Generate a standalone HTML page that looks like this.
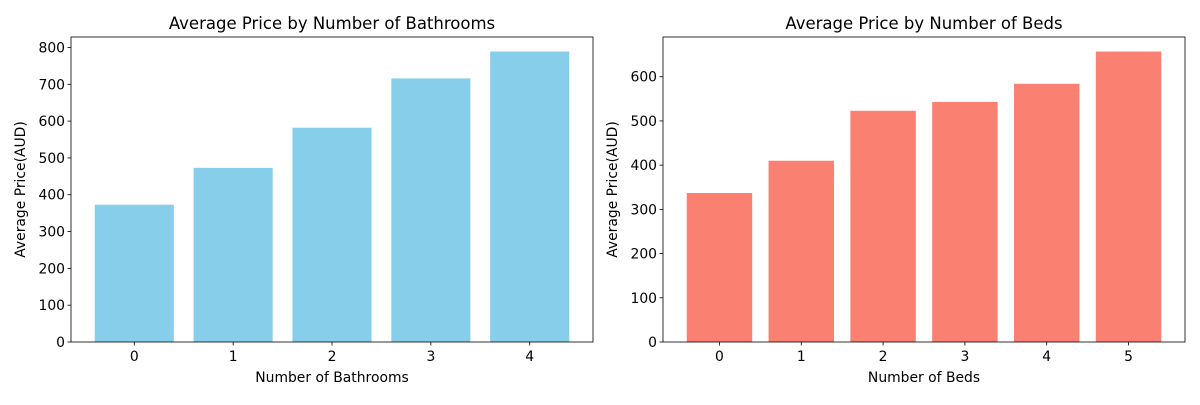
<!DOCTYPE html>
<html><head><meta charset="utf-8"><style>
body{margin:0;background:#fff}
svg{font-family:"DejaVu Sans","Liberation Sans",sans-serif}
</style></head><body>
<svg id="c" width="1200" height="400"></svg>
<script>
const bathCategories=["0","1","2","3","4"];
const bathValues=[373,473,582,716,789];
const bathTicks=[0,100,200,300,400,500,600,700,800];
const bedCategories=["0","1","2","3","4","5"];
const bedValues=[337,410,523,543,584,657];
const bedTicks=[0,100,200,300,400,500,600];
const NS="http://www.w3.org/2000/svg";
const svg=document.getElementById('c');
function mk(tag,attrs,parent){const e=document.createElementNS(NS,tag);for(const k in attrs)e.setAttribute(k,attrs[k]);(parent||svg).appendChild(e);return e;}
function panel(cfg){
  const g=mk('g',{});
  
  
  const L=cfg.x0,R=cfg.x1,T=37,B=342;
  const n=cfg.cats.length;
  const lo=-0.4-0.05*(n-1+0.8),hi=n-1+0.4+0.05*(n-1+0.8);
  const ymax=Math.max(...cfg.vals)*1.05;
  const xs=v=>L+(v-lo)/(hi-lo)*(R-L);
  const ys=v=>B-v/ymax*(B-T);
  cfg.vals.forEach((v,i)=>{
    const r=mk('rect',{x:xs(i-0.4),y:ys(v),width:xs(i+0.4)-xs(i-0.4),height:B-ys(v),fill:cfg.color},g);
    
    
  });
  const fr=mk('rect',{x:L,y:T,width:R-L,height:B-T,fill:'none',stroke:'#000','stroke-width':0.8},g);
  
  
  cfg.ticks.forEach(t=>{
    const y=ys(t);
    mk('line',{x1:L-3.5,x2:L,y1:y,y2:y,stroke:'#000','stroke-width':0.8},g);
    const tx=mk('text',{x:L-6,y:y+5,'font-size':13.9,'text-anchor':'end'},g);
    tx.textContent=t;
    
    
  });
  cfg.cats.forEach((c,i)=>{
    const x=xs(i);
    mk('line',{x1:x,x2:x,y1:B,y2:B+3.5,stroke:'#000','stroke-width':0.8},g);
    const tx=mk('text',{x:x,y:B+19,'font-size':13.9,'text-anchor':'middle'},g);
    tx.textContent=c;
    
    
  });
  const ti=mk('text',{x:(L+R)/2,y:29,'font-size':16.5,'text-anchor':'middle'},g);
  ti.textContent=cfg.title;
  
  
  const xl=mk('text',{x:(L+R)/2,y:382,'font-size':13.9,'text-anchor':'middle'},g);
  xl.textContent=cfg.xlabel;
  
  
  const yx=L-cfg.ylabOff;
  const yl=mk('text',{x:yx,y:(T+B)/2,'font-size':13.9,'text-anchor':'middle',transform:`rotate(-90 ${yx} ${(T+B)/2})`},g);
  yl.textContent='Average Price(AUD)';
  
  
}
panel({name:'bathrooms-chart',x0:71,x1:593,cats:bathCategories,vals:bathValues,ticks:bathTicks,color:'#87ceeb',title:'Average Price by Number of Bathrooms',xlabel:'Number of Bathrooms',ylabOff:46});
panel({name:'beds-chart',x0:663,x1:1185,cats:bedCategories,vals:bedValues,ticks:bedTicks,color:'#fa8072',title:'Average Price by Number of Beds',xlabel:'Number of Beds',ylabOff:46});
</script>
</body></html>
